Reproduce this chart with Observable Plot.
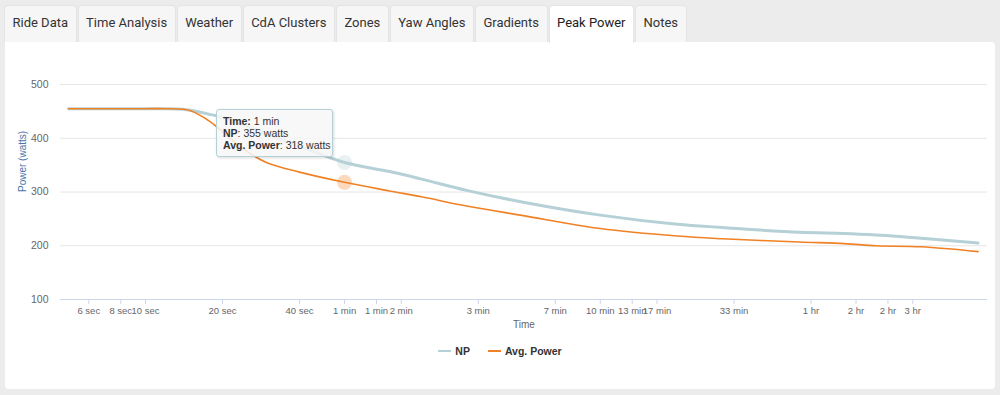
<!DOCTYPE html>
<html>
<head>
<meta charset="utf-8">
<script src="https://cdn.jsdelivr.net/npm/d3@7"></script>
<script src="https://cdn.jsdelivr.net/npm/@observablehq/plot@0.6"></script>
<style>
  html, body { margin: 0; padding: 0; }
  body { width: 1000px; height: 395px; overflow: hidden; position: relative; background: #ececec; font-family: "Liberation Sans", Arial, sans-serif; }
  #tabs { position: absolute; left: 4px; top: 5px; display: flex; z-index: 2; }
  .tab { height: 37px; box-sizing: border-box; padding: 0 7.5px; margin-right: 1px; border: 1px solid #e4e4e4; border-bottom: none; border-radius: 4px 4px 0 0; background: #f6f6f6; font: 13px Roboto, sans-serif; color: #333; line-height: 34px; white-space: nowrap; }
  .tab.active { background: #fff; color: #222; height: 38px; }
  #panel { position: absolute; left: 5px; top: 42px; width: 990px; height: 347px; background: #fff; border-radius: 0 4px 4px 4px; }
  #chart { position: absolute; left: 0; top: 60px; }
  #tip { position: absolute; left: 216px; top: 109px; width: 117px; height: 48px; box-sizing: border-box; background: rgba(247,247,247,0.85); border: 1px solid #b5d0d6; border-radius: 3px; box-shadow: 1px 1px 3px rgba(0,0,0,0.15); font-size: 10.5px; color: #333; padding: 5px 0 0 6px; line-height: 12px; white-space: nowrap; }
  #legend { position: absolute; left: 0; top: 342px; width: 1000px; text-align: center; font-size: 10.5px; font-weight: bold; color: #333; }
  .item { display: inline-flex; align-items: center; margin: 0 9px; }
  .sym { display: inline-block; width: 13px; height: 2px; margin-right: 4px; }
</style>
</head>
<body>
<div id="tabs"></div>
<div id="panel"></div>
<div id="chart"></div>
<div id="tip"></div>
<div id="legend"></div>
<script>
// ---- data ----
const tabNames = ["Ride Data", "Time Analysis", "Weather", "CdA Clusters", "Zones", "Yaw Angles", "Gradients", "Peak Power", "Notes"];
const activeTab = "Peak Power";

const durations = [5, 8, 10, 12, 14, 15, 18, 20, 25, 30, 40, 60, 90, 120, 180, 300, 600, 1200, 1800, 3600, 5400, 7200, 10800, 18000];
const npWatts   = [455, 455, 455, 455, 454, 452, 444, 439, 422, 407, 385, 355, 338, 324, 303, 281, 257, 240, 234, 225, 223, 220, 214, 205];
const avgWatts  = [455, 455, 455, 455, 454, 451, 430, 412, 375, 354, 337, 318, 302, 291, 274, 256, 232, 218, 213, 207, 204, 200, 198, 189];

const tickSeconds = [6, 8, 10, 20, 40, 60, 80, 100, 200, 400, 600, 800, 1000, 2000, 4000, 6000, 8000, 10000];
const tickLabels  = ["6 sec", "8 sec", "10 sec", "20 sec", "40 sec", "1 min", "1 min", "2 min", "3 min", "7 min", "10 min", "13 min", "17 min", "33 min", "1 hr", "2 hr", "2 hr", "3 hr"];
const yTicks = [100, 200, 300, 400, 500];

const seriesNames = ["NP", "Avg. Power"];
const seriesColors = ["#b5d0d6", "#f08124"];
const hoverTime = 60;
const hoverLabel = "1 min";
const unit = "watts";

// ---- tabs ----
const tabs = document.getElementById("tabs");
tabNames.forEach(n => {
  const d = document.createElement("div");
  d.className = "tab" + (n === activeTab ? " active" : "");
  d.textContent = n;
  tabs.appendChild(d);
});

// ---- chart ----
const npData = durations.map((t, i) => ({t, w: npWatts[i]}));
const avgData = durations.map((t, i) => ({t, w: avgWatts[i]}));
const tickData = tickSeconds.map((t, i) => ({t, label: tickLabels[i]}));
const hi = durations.indexOf(hoverTime);
const hover = [
  {t: hoverTime, w: npWatts[hi], c: seriesColors[0]},
  {t: hoverTime, w: avgWatts[hi], c: seriesColors[1]}
];

const chart = Plot.plot({
  width: 1000,
  height: 280,
  marginLeft: 60,
  marginRight: 13,
  marginTop: 24,
  marginBottom: 41,
  style: {fontFamily: "'Liberation Sans', Arial, sans-serif", fontSize: "10px", background: "transparent", overflow: "visible"},
  x: {type: "log", domain: [4.65, 19600]},
  y: {domain: [100, 500]},
  marks: [
    Plot.gridY(yTicks.slice(1), {stroke: "#e6e6e6", strokeOpacity: 1}),
    Plot.ruleY([100], {stroke: "#ccd6eb"}),
    Plot.axisY(yTicks, {tickSize: 0, tickPadding: 12, fill: "#666", label: null, fontSize: 10.5}),
    Plot.axisX(tickSeconds, {tickSize: 5, stroke: "#ccd6eb", label: null, tickFormat: () => ""}),
    Plot.text(tickData, {x: "t", text: "label", frameAnchor: "bottom", dy: 14, fill: "#666", fontSize: 9.5}),
    Plot.text(["Power (watts)"], {frameAnchor: "left", dx: -38, rotate: -90, fill: "#4a74a8", fontSize: 10}),
    Plot.text(["Time"], {frameAnchor: "bottom", dy: 28, fill: "#666", fontSize: 10}),
    Plot.line(npData, {x: "t", y: "w", stroke: seriesColors[0], strokeWidth: 3, curve: "catmull-rom"}),
    Plot.line(avgData, {x: "t", y: "w", stroke: seriesColors[1], strokeWidth: 1.6, curve: "catmull-rom"}),
    Plot.dot(hover, {x: "t", y: "w", r: 7.5, fill: "c", fillOpacity: 0.3, stroke: null})
  ]
});
document.getElementById("chart").appendChild(chart);

// ---- tooltip ----
document.getElementById("tip").innerHTML =
  `<div><b>Time:</b> ${hoverLabel}</div>` +
  `<div><b>${seriesNames[0]}</b>: ${npWatts[hi]} ${unit}</div>` +
  `<div><b>${seriesNames[1]}</b>: ${avgWatts[hi]} ${unit}</div>`;

// ---- legend ----
const legend = document.getElementById("legend");
seriesNames.forEach((n, i) => {
  const it = document.createElement("span");
  it.className = "item";
  it.innerHTML = `<span class="sym" style="background:${seriesColors[i]}"></span>${n}`;
  legend.appendChild(it);
});
</script>
</body>
</html>
